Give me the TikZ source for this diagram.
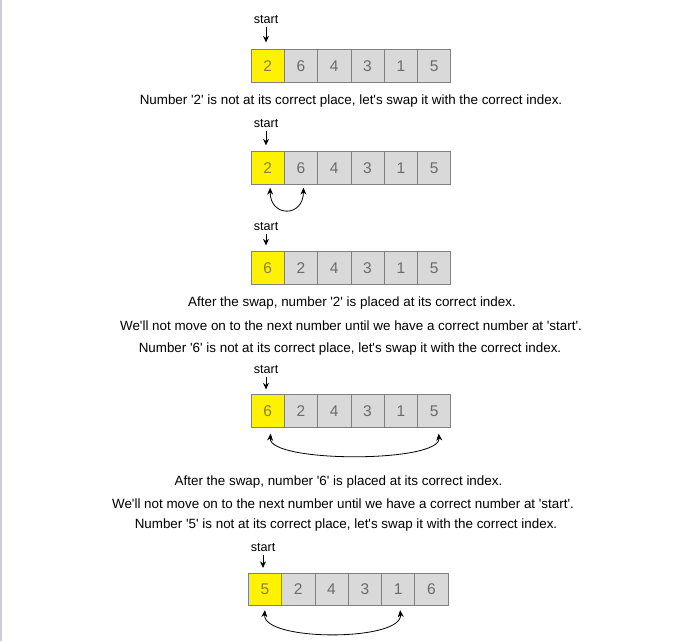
\documentclass[tikz,border=0pt]{standalone}
\usepackage{fontspec}
\setmainfont{Liberation Sans}[Ligatures=TeXOff]
\usetikzlibrary{arrows.meta}

\tikzset{
	cell/.style={draw=black!50, fill=black!15, line width=0.8pt, minimum width=33.3pt, minimum height=32.5pt, inner sep=0pt, text=black!58, font=\fontsize{15.5}{15.5}\selectfont},
	startcell/.style={cell, fill=yellow, text=black!55!yellow},
	lbl/.style={font=\fontsize{12.6}{13}\selectfont},
	msg/.style={font=\fontsize{13.4}{14}\selectfont},
	ptr/.style={-{Stealth[length=6.5pt,width=6pt]}, line width=1pt},
	swap/.style={{Stealth[length=7pt,width=6pt]}-{Stealth[length=7pt,width=6pt]}, line width=0.8pt},
}
% one row of numbers: name(x,y){first}{others}
\def\numrow#1(#2,#3)#4#5{%
	\node[startcell] (#1-1) at ({#2+16.65},#3) {#4};
	\foreach \v [count=\i from 2] in {#5}
		\node[cell] (#1-\i) at ({#2+16.65+33.3*(\i-1)},#3) {\v};
}

\begin{document}
\begin{tikzpicture}[x=1pt, y=1pt]
			%%%%% START %%%%%
			
			\useasboundingbox (0, 0) rectangle (698, -641);
			\fill[blue!15!black!20] (0, 0) rectangle (1.5, -641);
			
			\node[lbl] (s1) at (266, -19) {start};
			\numrow a(251, -66){2}{6,4,3,1,5}
			\draw[ptr, shorten >=7pt] (s1.south) -- (s1.south |- a-1.north);
			
			\node[msg] (m1) at (351, -101) {Number '2' is not at its correct place, let's swap it with the correct index.};
			
			\node[lbl] (s2) at (266, -123) {start};
			\numrow b(251, -168){2}{6,4,3,1,5}
			\draw[ptr, shorten >=6pt] (s2.south) -- (s2.south |- b-1.north);
			\draw[swap] ([shift={(2.5,-3)}]b-1.south) to[out=-90, in=-90, looseness=2.3] ([shift={(2.5,-3)}]b-2.south);
			
			\node[lbl] (s3) at (266, -226) {start};
			\numrow c(251, -268){6}{2,4,3,1,5}
			\draw[ptr, shorten >=6pt] (s3.south) -- (s3.south |- c-1.north);
			
			\node[msg] (m2) at (352, -303) {After the swap, number '2' is placed at its correct index.};
			\node[msg] (m3) at (351, -326) {We'll not move on to the next number until we have a correct number at 'start'.};
			\node[msg] (m4) at (350, -349) {Number '6' is not at its correct place, let's swap it with the correct index.};
			
			\node[lbl] (s4) at (266, -369) {start};
			\numrow d(251, -411){6}{2,4,3,1,5}
			\draw[ptr, shorten >=5pt] (s4.south) -- (s4.south |- d-1.north);
			\draw[swap] ([shift={(3,-6)}]d-1.south) to[out=-95, in=-85, looseness=0.45] ([shift={(4.5,-6)}]d-6.south);
			
			\node[msg] (m5) at (338.5, -482) {After the swap, number '6' is placed at its correct index.};
			\node[msg] (m6) at (343, -504) {We'll not move on to the next number until we have a correct number at 'start'.};
			\node[msg] (m7) at (346, -525) {Number '5' is not at its correct place, let's swap it with the correct index.};
			
			\node[lbl] (s5) at (263, -547) {start};
			\numrow e(248.3, -589.5){5}{2,4,3,1,6}
			\draw[ptr, shorten >=5pt] (s5.south) -- (s5.south |- e-1.north);
			\draw[swap] ([shift={(0,-4)}]e-1.south) to[out=-95, in=-85, looseness=0.6] ([shift={(2,-4)}]e-5.south);
			
			%%%%% END %%%%%
\end{tikzpicture}
\end{document}
